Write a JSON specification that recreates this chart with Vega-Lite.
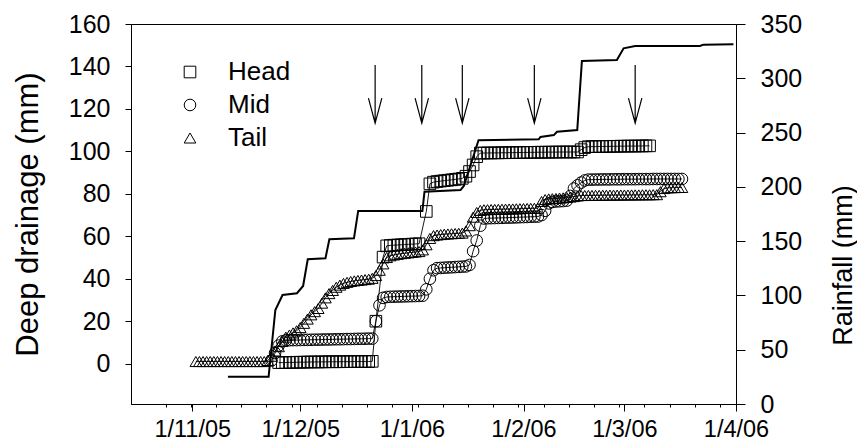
{
  "$schema": "https://vega.github.io/schema/vega-lite/v6.json",
  "width": 605,
  "height": 380,
  "autosize": {"type": "none"},
  "padding": {"left": 131, "top": 24, "right": 121, "bottom": 37},
  "config": {
    "font": "Liberation Sans",
    "view": {"stroke": "black", "strokeWidth": 1},
    "axis": {"domainColor": "black", "tickColor": "black", "labelColor": "black", "titleColor": "black", "titleFontWeight": "normal", "grid": false, "domainWidth": 1, "tickWidth": 1}
  },
  "datasets": {
    "drain": [
      {"date":"2005/11/02","Tail":1},{"date":"2005/11/03","Tail":1},{"date":"2005/11/04","Tail":1},{"date":"2005/11/05","Tail":1},
      {"date":"2005/11/06","Tail":1},{"date":"2005/11/07","Tail":1},{"date":"2005/11/08","Tail":1},{"date":"2005/11/09","Tail":1},
      {"date":"2005/11/10","Tail":1},{"date":"2005/11/11","Tail":1},{"date":"2005/11/12","Tail":1},{"date":"2005/11/13","Tail":1},
      {"date":"2005/11/14","Tail":1},{"date":"2005/11/15","Tail":1},{"date":"2005/11/16","Tail":1},{"date":"2005/11/17","Tail":1},
      {"date":"2005/11/18","Tail":1},{"date":"2005/11/19","Tail":1},{"date":"2005/11/20","Tail":1},{"date":"2005/11/21","Tail":1},
      {"date":"2005/11/22","Tail":1.5},
      {"date":"2005/11/23","Mid":1.5,"Tail":3.5},
      {"date":"2005/11/24","Mid":5,"Tail":6},
      {"date":"2005/11/25","Head":0.5,"Mid":8.5,"Tail":8},
      {"date":"2005/11/26","Head":0.5,"Mid":10.5,"Tail":10.5},
      {"date":"2005/11/27","Head":0.55,"Mid":11,"Tail":12.5},
      {"date":"2005/11/28","Head":0.6,"Mid":11.05,"Tail":13.5},
      {"date":"2005/11/29","Head":0.6,"Mid":11.1,"Tail":14.5},
      {"date":"2005/11/30","Head":0.65,"Mid":11.1,"Tail":15.5},
      {"date":"2005/12/01","Head":0.7,"Mid":11.15,"Tail":17},
      {"date":"2005/12/02","Head":0.7,"Mid":11.2,"Tail":19},
      {"date":"2005/12/03","Head":0.75,"Mid":11.2,"Tail":21},
      {"date":"2005/12/04","Head":0.8,"Mid":11.25,"Tail":23},
      {"date":"2005/12/05","Head":0.8,"Mid":11.3,"Tail":24.5},
      {"date":"2005/12/06","Head":0.8,"Mid":11.3,"Tail":26},
      {"date":"2005/12/07","Head":0.85,"Mid":11.35,"Tail":28.5},
      {"date":"2005/12/08","Head":0.85,"Mid":11.4,"Tail":31},
      {"date":"2005/12/09","Head":0.9,"Mid":11.4,"Tail":33},
      {"date":"2005/12/10","Head":0.9,"Mid":11.45,"Tail":34.5},
      {"date":"2005/12/11","Head":0.9,"Mid":11.5,"Tail":36},
      {"date":"2005/12/12","Head":0.9,"Mid":11.5,"Tail":37},
      {"date":"2005/12/13","Head":0.95,"Mid":11.55,"Tail":37.8},
      {"date":"2005/12/14","Head":0.95,"Mid":11.6,"Tail":38.3},
      {"date":"2005/12/15","Head":0.95,"Mid":11.6,"Tail":38.7},
      {"date":"2005/12/16","Head":1,"Mid":11.65,"Tail":39},
      {"date":"2005/12/17","Head":1,"Mid":11.7,"Tail":39.2},
      {"date":"2005/12/18","Head":1,"Mid":11.7,"Tail":39.4},
      {"date":"2005/12/19","Head":1,"Mid":11.75,"Tail":39.6},
      {"date":"2005/12/20","Head":1,"Mid":11.8,"Tail":39.8},
      {"date":"2005/12/21","Head":1.1,"Mid":11.8,"Tail":40.2},
      {"date":"2005/12/22","Head":20,"Mid":20,"Tail":41.5},
      {"date":"2005/12/23","Mid":27.5,"Tail":44},
      {"date":"2005/12/24","Head":50.2,"Mid":31,"Tail":47},
      {"date":"2005/12/25","Head":55.5,"Mid":31.4,"Tail":50},
      {"date":"2005/12/26","Head":55.7,"Mid":31.5,"Tail":50.8},
      {"date":"2005/12/27","Head":55.8,"Mid":31.55,"Tail":51.2},
      {"date":"2005/12/28","Head":55.9,"Mid":31.6,"Tail":51.5},
      {"date":"2005/12/29","Head":56,"Mid":31.65,"Tail":51.8},
      {"date":"2005/12/30","Head":56.1,"Mid":31.7,"Tail":52},
      {"date":"2005/12/31","Head":56.2,"Mid":31.75,"Tail":52.2},
      {"date":"2006/01/01","Head":56.3,"Mid":31.8,"Tail":52.4},
      {"date":"2006/01/02","Head":56.4,"Mid":31.85,"Tail":52.6},
      {"date":"2006/01/03","Head":56.5,"Mid":31.9,"Tail":52.8},
      {"date":"2006/01/04","Mid":32,"Tail":53.6},
      {"date":"2006/01/05","Head":71.7,"Mid":35,"Tail":56},
      {"date":"2006/01/06","Head":84.7,"Mid":40,"Tail":59},
      {"date":"2006/01/07","Head":85.5,"Mid":44,"Tail":60.3},
      {"date":"2006/01/08","Head":85.8,"Mid":45,"Tail":60.6},
      {"date":"2006/01/09","Head":86,"Mid":45.1,"Tail":60.8},
      {"date":"2006/01/10","Head":86.2,"Mid":45.2,"Tail":61},
      {"date":"2006/01/11","Head":86.4,"Mid":45.3,"Tail":61.1},
      {"date":"2006/01/12","Head":86.6,"Mid":45.4,"Tail":61.2},
      {"date":"2006/01/13","Head":86.8,"Mid":45.5,"Tail":61.3},
      {"date":"2006/01/14","Head":87,"Mid":45.6,"Tail":61.4},
      {"date":"2006/01/15","Head":87.3,"Mid":45.7,"Tail":61.5},
      {"date":"2006/01/16","Head":88.3,"Mid":45.8,"Tail":62.5},
      {"date":"2006/01/17","Head":90.5,"Mid":46.5,"Tail":65},
      {"date":"2006/01/18","Head":93.6,"Mid":53,"Tail":69},
      {"date":"2006/01/19","Head":97.5,"Mid":58,"Tail":71.2},
      {"date":"2006/01/20","Head":99.2,"Mid":65,"Tail":72.2},
      {"date":"2006/01/21","Head":99.2,"Mid":68.4,"Tail":72.5},
      {"date":"2006/01/22","Head":99.25,"Mid":68.5,"Tail":72.55},
      {"date":"2006/01/23","Head":99.25,"Mid":68.55,"Tail":72.6},
      {"date":"2006/01/24","Head":99.3,"Mid":68.6,"Tail":72.65},
      {"date":"2006/01/25","Head":99.3,"Mid":68.65,"Tail":72.7},
      {"date":"2006/01/26","Head":99.35,"Mid":68.7,"Tail":72.75},
      {"date":"2006/01/27","Head":99.35,"Mid":68.75,"Tail":72.8},
      {"date":"2006/01/28","Head":99.4,"Mid":68.8,"Tail":72.85},
      {"date":"2006/01/29","Head":99.4,"Mid":68.85,"Tail":72.9},
      {"date":"2006/01/30","Head":99.45,"Mid":68.9,"Tail":72.95},
      {"date":"2006/01/31","Head":99.45,"Mid":69,"Tail":73},
      {"date":"2006/02/01","Head":99.5,"Mid":69.05,"Tail":73.05},
      {"date":"2006/02/02","Head":99.5,"Mid":69.1,"Tail":73.1},
      {"date":"2006/02/03","Head":99.55,"Mid":69.2,"Tail":73.15},
      {"date":"2006/02/04","Head":99.55,"Mid":69.25,"Tail":73.2},
      {"date":"2006/02/05","Head":99.6,"Mid":69.3,"Tail":73.2},
      {"date":"2006/02/06","Head":99.6,"Mid":70,"Tail":76.4},
      {"date":"2006/02/07","Head":99.6,"Mid":72,"Tail":77.3},
      {"date":"2006/02/08","Head":99.65,"Mid":75.5,"Tail":77.6},
      {"date":"2006/02/09","Head":99.65,"Mid":76.2,"Tail":77.7},
      {"date":"2006/02/10","Head":99.65,"Mid":76.4,"Tail":77.8},
      {"date":"2006/02/11","Head":99.7,"Mid":76.5,"Tail":78},
      {"date":"2006/02/12","Head":99.7,"Mid":76.6,"Tail":78.1},
      {"date":"2006/02/13","Head":99.7,"Mid":76.8,"Tail":78.3},
      {"date":"2006/02/14","Head":99.7,"Mid":79,"Tail":78.5},
      {"date":"2006/02/15","Head":99.7,"Mid":82.5,"Tail":78.7},
      {"date":"2006/02/16","Head":99.7,"Mid":84,"Tail":79},
      {"date":"2006/02/17","Head":100.8,"Mid":85.3,"Tail":79.2},
      {"date":"2006/02/18","Head":101.8,"Mid":86.3,"Tail":79.2},
      {"date":"2006/02/19","Head":102.2,"Mid":86.7,"Tail":79.25},
      {"date":"2006/02/20","Head":102.25,"Mid":86.7,"Tail":79.25},
      {"date":"2006/02/21","Head":102.25,"Mid":86.75,"Tail":79.3},
      {"date":"2006/02/22","Head":102.3,"Mid":86.75,"Tail":79.3},
      {"date":"2006/02/23","Head":102.3,"Mid":86.8,"Tail":79.35},
      {"date":"2006/02/24","Head":102.35,"Mid":86.8,"Tail":79.35},
      {"date":"2006/02/25","Head":102.35,"Mid":86.8,"Tail":79.4},
      {"date":"2006/02/26","Head":102.4,"Mid":86.85,"Tail":79.4},
      {"date":"2006/02/27","Head":102.4,"Mid":86.85,"Tail":79.4},
      {"date":"2006/02/28","Head":102.45,"Mid":86.85,"Tail":79.45},
      {"date":"2006/03/01","Head":102.45,"Mid":86.9,"Tail":79.45},
      {"date":"2006/03/02","Head":102.5,"Mid":86.9,"Tail":79.45},
      {"date":"2006/03/03","Head":102.5,"Mid":86.9,"Tail":79.5},
      {"date":"2006/03/04","Head":102.5,"Mid":86.9,"Tail":79.5},
      {"date":"2006/03/05","Head":102.55,"Mid":86.95,"Tail":79.5},
      {"date":"2006/03/06","Head":102.55,"Mid":86.95,"Tail":79.55},
      {"date":"2006/03/07","Head":102.6,"Mid":86.95,"Tail":79.55},
      {"date":"2006/03/08","Head":102.6,"Mid":86.95,"Tail":79.55},
      {"date":"2006/03/09","Mid":87,"Tail":79.6},
      {"date":"2006/03/10","Mid":87,"Tail":79.6},
      {"date":"2006/03/11","Mid":87,"Tail":81},
      {"date":"2006/03/12","Mid":87,"Tail":82.5},
      {"date":"2006/03/13","Mid":87,"Tail":82.8},
      {"date":"2006/03/14","Mid":87,"Tail":82.9},
      {"date":"2006/03/15","Mid":87,"Tail":82.9},
      {"date":"2006/03/16","Mid":87,"Tail":83},
      {"date":"2006/03/17","Mid":87,"Tail":83}
    ],
    "rain": [
      {"date":"2005/11/10 22:00","rain":25},
      {"date":"2005/11/22 05:00","rain":25},
      {"date":"2005/11/24 02:00","rain":86.6},
      {"date":"2005/11/26 02:00","rain":100.4},
      {"date":"2005/11/30 02:00","rain":102},
      {"date":"2005/12/01 19:00","rain":108.7},
      {"date":"2005/12/03 02:00","rain":133.3},
      {"date":"2005/12/08 00:00","rain":134.2},
      {"date":"2005/12/09 02:00","rain":151.7},
      {"date":"2005/12/15 22:00","rain":152.6},
      {"date":"2005/12/17 02:00","rain":177.8},
      {"date":"2006/01/03 22:00","rain":177.8},
      {"date":"2006/01/04 12:00","rain":195.6},
      {"date":"2006/01/14 12:00","rain":197},
      {"date":"2006/01/15 10:00","rain":200.8},
      {"date":"2006/01/19 12:00","rain":243},
      {"date":"2006/02/05 05:00","rain":243.8},
      {"date":"2006/02/05 17:00","rain":246},
      {"date":"2006/02/09 10:00","rain":247.7},
      {"date":"2006/02/10 07:00","rain":250.8},
      {"date":"2006/02/15 22:00","rain":252.4},
      {"date":"2006/02/17 05:00","rain":316},
      {"date":"2006/02/26 22:00","rain":316.8},
      {"date":"2006/02/28 19:00","rain":327.6},
      {"date":"2006/03/04 00:00","rain":329.7},
      {"date":"2006/03/22 00:00","rain":329.7},
      {"date":"2006/03/22 22:00","rain":331},
      {"date":"2006/03/31 07:00","rain":331.3}
    ],
    "arrows": [
      {"date":"2005/12/21 19:00","value":127},
      {"date":"2006/01/03 18:00","value":127},
      {"date":"2006/01/15 00:00","value":127},
      {"date":"2006/02/04 00:00","value":127},
      {"date":"2006/03/04 00:00","value":127}
    ]
  },
  "encoding": {
    "x": {
      "field": "date",
      "type": "temporal",
      "scale": {"domain": [{"year": 2005, "month": 10, "date": 15}, {"year": 2006, "month": 4, "date": 1}]},
      "axis": {
        "title": null,
        "values": [
          {"year":2005,"month":10,"date":24,"hours":14},{"year":2005,"month":10,"date":31,"hours":14},
          {"year":2005,"month":11,"date":1},
          {"year":2005,"month":11,"date":7,"hours":14},{"year":2005,"month":11,"date":14,"hours":14},{"year":2005,"month":11,"date":21,"hours":14},{"year":2005,"month":11,"date":28,"hours":14},
          {"year":2005,"month":12,"date":1},
          {"year":2005,"month":12,"date":5,"hours":14},{"year":2005,"month":12,"date":12,"hours":14},{"year":2005,"month":12,"date":19,"hours":14},{"year":2005,"month":12,"date":26,"hours":14},
          {"year":2006,"month":1,"date":1},
          {"year":2006,"month":1,"date":2,"hours":14},{"year":2006,"month":1,"date":9,"hours":14},{"year":2006,"month":1,"date":16,"hours":14},{"year":2006,"month":1,"date":23,"hours":14},{"year":2006,"month":1,"date":30,"hours":14},
          {"year":2006,"month":2,"date":1},
          {"year":2006,"month":2,"date":6,"hours":14},{"year":2006,"month":2,"date":13,"hours":14},{"year":2006,"month":2,"date":20,"hours":14},{"year":2006,"month":2,"date":27,"hours":14},
          {"year":2006,"month":3,"date":1},
          {"year":2006,"month":3,"date":6,"hours":14},{"year":2006,"month":3,"date":13,"hours":14},{"year":2006,"month":3,"date":20,"hours":14},{"year":2006,"month":3,"date":27,"hours":14},
          {"year":2006,"month":4,"date":1}
        ],
        "labelExpr": "hours(datum.value) == 0 ? timeFormat(datum.value, '%-d/%-m/%y') : ''",
        "tickSize": {"condition": {"test": "hours(datum.value) == 0", "value": 7}, "value": 3},
        "labelFontSize": 23.5,
        "labelPadding": 6,
        "labelDx": -5,
        "labelOverlap": false,
        "labelFlush": false,
        "labelBound": false
      }
    }
  },
  "layer": [
    {
      "encoding": {
        "y": {
          "field": "value",
          "type": "quantitative",
          "scale": {"domain": [-19, 160], "nice": false, "zero": false},
          "axis": {
            "values": [0, 20, 40, 60, 80, 100, 120, 140, 160],
            "title": "Deep drainage (mm)",
            "titleFontSize": 31,
            "titleAngle": 270,
            "titleBaseline": "alphabetic",
            "titleX": -93.7,
            "titleY": 190,
            "labelFontSize": 25,
            "tickSize": 6,
            "labelPadding": 15
          }
        }
      },
      "layer": [
        {
          "data": {"name": "drain"},
          "transform": [
            {"fold": ["Head", "Mid", "Tail"], "as": ["series", "value"]},
            {"filter": "isValid(datum.value)"}
          ],
          "mark": {"type": "line", "color": "black", "strokeWidth": 0.9},
          "encoding": {"detail": {"field": "series", "type": "nominal"}}
        },
        {
          "data": {"name": "drain"},
          "transform": [
            {"fold": ["Head", "Mid", "Tail"], "as": ["series", "value"]},
            {"filter": "isValid(datum.value)"}
          ],
          "mark": {"type": "point", "filled": false, "color": "black", "strokeWidth": 1, "size": 135, "opacity": 1},
          "encoding": {
            "shape": {
              "field": "series",
              "type": "nominal",
              "scale": {"domain": ["Head", "Mid", "Tail"], "range": ["square", "circle", "triangle-up"]},
              "legend": {
                "title": null,
                "orient": "none",
                "legendX": 46,
                "legendY": 35,
                "padding": 0,
                "labelFontSize": 26,
                "labelColor": "black",
                "labelOffset": 25,
                "rowPadding": 7,
                "symbolSize": 135,
                "symbolStrokeColor": "black",
                "symbolFillColor": "transparent",
                "symbolStrokeWidth": 1
              }
            }
          }
        },
        {
          "data": {"name": "arrows"},
          "mark": {"type": "point", "shape": "M0,-1L0,1M-0.23,0.14L0,1L0.23,0.14", "size": 3400, "filled": false, "color": "black", "strokeWidth": 1.2, "opacity": 1}
        }
      ]
    },
    {
      "data": {"name": "rain"},
      "mark": {"type": "line", "color": "black", "strokeWidth": 2},
      "encoding": {
        "y": {
          "field": "rain",
          "type": "quantitative",
          "scale": {"domain": [0, 350], "nice": false},
          "axis": {
            "orient": "right",
            "values": [0, 50, 100, 150, 200, 250, 300, 350],
            "title": "Rainfall (mm)",
            "titleFontSize": 27,
            "titleAngle": 270,
            "titleBaseline": "alphabetic",
            "titleX": 115.7,
            "titleY": 241,
            "labelFontSize": 25,
            "tickSize": 9,
            "labelPadding": 15
          }
        }
      }
    }
  ],
  "resolve": {"scale": {"y": "independent"}, "axis": {"y": "independent"}}
}
